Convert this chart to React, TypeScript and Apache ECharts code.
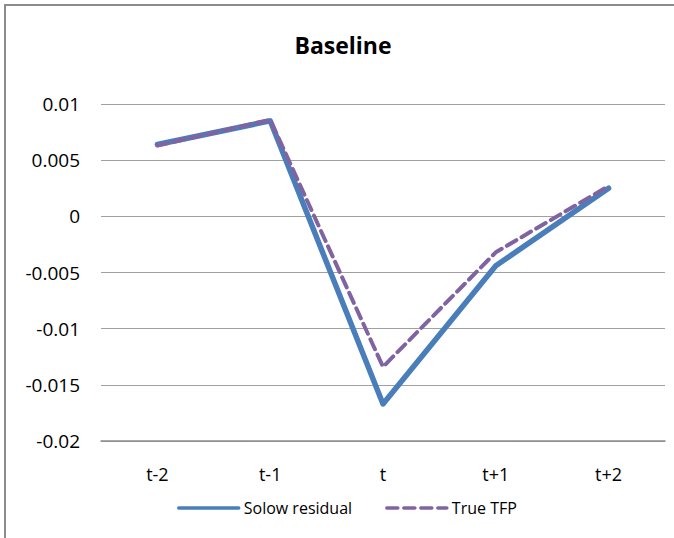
import React, { useEffect, useRef } from "react";
import * as echarts from "echarts";

const categories = ["t-2", "t-1", "t", "t+1", "t+2"];
const solowResidual = [0.0064, 0.0085, -0.0167, -0.0044, 0.0025];
const trueTFP = [0.0063, 0.0086, -0.0134, -0.0032, 0.0027];
const seriesNames = ["Solow residual", "True TFP"];

const FONT = "'Open Sans', Lato, 'DejaVu Sans', sans-serif";

export default function App() {
  const ref = useRef<HTMLDivElement>(null);
  useEffect(() => {
    if (!ref.current) return;
    const chart = echarts.init(ref.current, null, { renderer: "svg" });
    chart.setOption({
      animation: false,
      backgroundColor: "#ffffff",
      title: {
        text: "Baseline",
        left: 338,
        textAlign: "center",
        top: 28,
        textStyle: { fontFamily: FONT, fontSize: 23, fontWeight: "bold", color: "#000" },
      },
      graphic: [
        {
          type: "polyline",
          shape: { points: [[5, 540], [5, 5], [680, 5]] },
          style: { stroke: "#8c8c8c", lineWidth: 2, fill: "none" },
          silent: true,
        },
      ],
      grid: { left: 101, right: 9, top: 104, bottom: 97 },
      legend: {
        data: seriesNames,
        left: 172,
        top: 495,
        itemWidth: 60,
        itemHeight: 14,
        itemGap: 33,
        itemStyle: { opacity: 0 },
        lineStyle: { width: 3.5 },
        textStyle: { fontFamily: FONT, fontSize: 16, color: "#000" },
      },
      xAxis: {
        type: "category",
        data: categories,
        boundaryGap: true,
        axisLine: { onZero: false, lineStyle: { color: "#8c8c8c", width: 1.5 } },
        axisTick: { show: false },
        axisLabel: { fontFamily: FONT, fontSize: 18, color: "#000", margin: 24 },
      },
      yAxis: {
        type: "value",
        min: -0.02,
        max: 0.01,
        interval: 0.005,
        axisLine: { show: false },
        axisTick: { show: false },
        splitLine: { lineStyle: { color: "#a0a0a0", width: 1 } },
        axisLabel: {
          fontFamily: FONT,
          fontSize: 19,
          color: "#000",
          margin: 21,
          formatter: (v: number) => String(parseFloat(v.toFixed(4))),
        },
      },
      series: [
        {
          name: seriesNames[0],
          type: "line",
          data: solowResidual,
          symbol: "none",
          lineStyle: { color: "#4a7ebb", width: 5.5, cap: "round", join: "round" },
          itemStyle: { color: "#4a7ebb" },
        },
        {
          name: seriesNames[1],
          type: "line",
          data: trueTFP,
          symbol: "none",
          lineStyle: { color: "#8064a2", width: 4, type: [11, 6], cap: "round", join: "round" },
          itemStyle: { color: "#8064a2" },
        },
      ],
    });
    return () => chart.dispose();
  }, []);
  return (
    <div
      ref={ref}
      style={{ position: "fixed", left: 0, top: 0, width: 674, height: 538 }}
    />
  );
}
